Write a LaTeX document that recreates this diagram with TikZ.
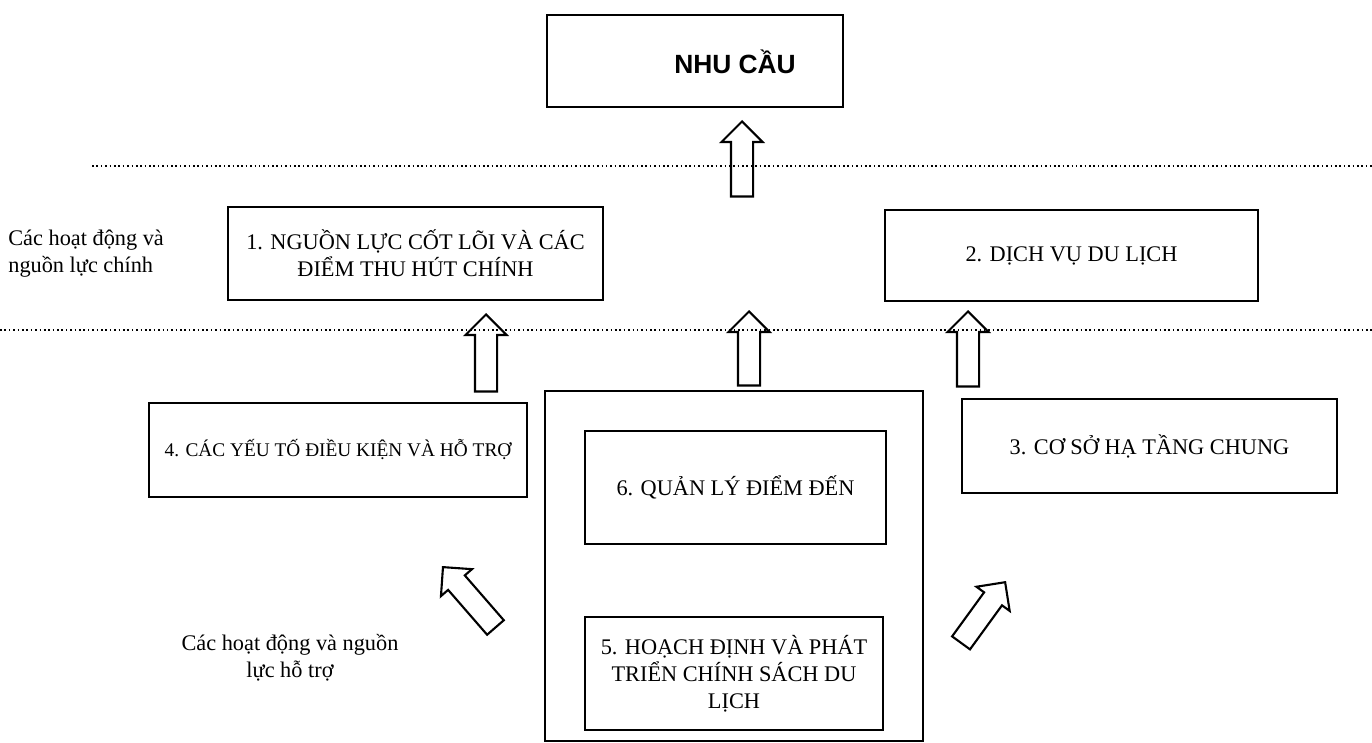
\documentclass[tikz,border=0pt]{standalone}
\usepackage{fontspec}
\setmainfont{Liberation Serif}
\newfontfamily\tieude{Liberation Sans}
\usepackage{tikz}
\usetikzlibrary{shapes.arrows}

\begin{document}
\begin{tikzpicture}[
    x=0.02cm, y=-0.02cm,
    khung/.style={draw, line width=1pt, align=center, inner sep=2pt,
        font=\fontsize{12.7}{15.4}\selectfont},
    nhan/.style={align=left, inner sep=0pt,
        font=\fontsize{12.7}{15.4}\selectfont},
    muiten/.style={draw, line width=1.2pt, single arrow, anchor=tip,
        inner xsep=0pt, inner ysep=0.2cm, single arrow head extend=0.19cm,
        minimum height=1.5cm},
    vach/.style={line width=0.9pt, dash pattern=on 0.9pt off 1.6pt}
]
    \useasboundingbox (0,0) rectangle (1372,743);

    \coordinate (v1a) at (92,166);
    \coordinate (v1b) at (1372,166);
    \coordinate (v2a) at (0,330);
    \coordinate (v2b) at (1372,330);
    \draw[vach] (v1a) -- (v1b);
    \draw[vach] (v2a) -- (v2b);

    \node[khung, minimum width=5.92cm, minimum height=1.84cm] (nhucau) at (695,61) {};
    \node[font=\tieude\bfseries\fontsize{15}{17}\selectfont] (nhucautxt) at (735,62) {NHU CẦU};

    \node[nhan, anchor=west] (chinh) at (8,254) {Các hoạt động và\\nguồn lực chính};
    \node[khung, minimum width=7.5cm, minimum height=1.86cm] (nguonluc) at (415.5,253.5)
        {1. NGUỒN LỰC CỐT LÕI VÀ CÁC\\ĐIỂM THU HÚT CHÍNH};
    \node[khung, minimum width=7.46cm, minimum height=1.82cm] (dichvu) at (1071.5,255.5)
        {2. DỊCH VỤ DU LỊCH};

    \node[khung, minimum width=7.56cm, minimum height=1.88cm,
        font=\fontsize{11}{13}\selectfont] (dieukien) at (338,450)
        {4. CÁC YẾU TỐ ĐIỀU KIỆN VÀ HỖ TRỢ};
    \node[khung, minimum width=7.56cm, minimum height=7cm] (trungtam) at (734,566) {};
    \node[khung, minimum width=6.02cm, minimum height=2.26cm] (quanly) at (735.5,487.5)
        {6. QUẢN LÝ ĐIỂM ĐẾN};
    \node[khung, minimum width=5.96cm, minimum height=2.26cm] (hoachdinh) at (734,673.5)
        {5. HOẠCH ĐỊNH VÀ PHÁT\\TRIỂN CHÍNH SÁCH DU\\LỊCH};
    \node[khung, minimum width=7.5cm, minimum height=1.88cm] (hatang) at (1149.5,446)
        {3. CƠ SỞ HẠ TẦNG CHUNG};

    \node[nhan, align=center] (phu) at (290,658) {Các hoạt động và nguồn\\lực hỗ trợ};

    \node[muiten, rotate=90] (m0) at (742,120) {};
    \node[muiten, rotate=90, minimum height=1.54cm] (m1) at (486,313) {};
    \node[muiten, rotate=90, minimum height=1.48cm] (m2) at (749,310) {};
    \node[muiten, rotate=90] (m3) at (968,310) {};
    \node[muiten, rotate=131, minimum height=1.6cm] (m4) at (442,566) {};
    \node[muiten, rotate=54] (m5) at (1006,581) {};
\end{tikzpicture}
\end{document}
